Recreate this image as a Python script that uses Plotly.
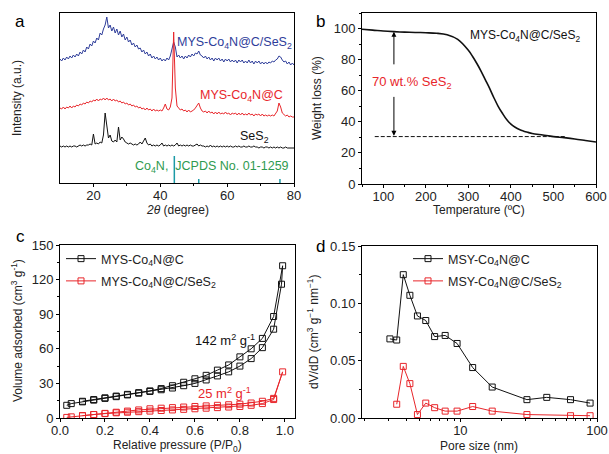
import numpy as np
import plotly.graph_objects as go

# ---------------- Panel a: XRD ----------------
xrd_two_theta = np.arange(10, 80.01, 0.5)
xrd_blue = [124,122,125,123,126,124,127,125,128,126,
            129,127,131,129,133,131,136,134,139,137,
            142,140,145,143,150,148,154,158,166,155,
            158,152,156,150,154,148,152,146,149,143,
            146,141,143,138,140,136,138,134,135,131,
            133,129,131,127,129,125,127,124,126,123,
            125,122,124,122,125,123,127,133,141,136,
            126,128,125,127,124,127,125,128,126,129,
            127,130,129,132,128,127,125,127,124,126,
            123,125,122,125,123,125,122,124,121,124,
            122,124,121,123,121,123,120,123,121,123,
            120,122,120,123,120,122,119,122,120,122,
            119,121,119,121,119,121,120,122,121,123,
            124,127,126,123,121,122,119,121,118,120,
            118]
xrd_red = [75,74,76,74,76,75,77,75,77,76,
           78,77,79,78,80,79,81,80,82,81,
           83,82,84,82,84,83,85,83,85,83,
           84,82,84,82,83,81,82,80,81,79,
           80,78,79,77,78,76,77,75,76,74,
           75,73,75,73,74,72,74,72,73,72,
           73,72,75,79,74,73,76,85,151,95,
           77,75,73,74,72,73,71,73,71,72,
           73,75,78,80,75,72,71,72,70,72,
           70,71,69,71,69,71,69,70,69,71,
           69,70,68,70,69,70,68,70,68,70,
           68,69,68,70,68,69,67,69,68,69,
           67,69,67,68,67,68,67,68,67,69,
           72,80,76,70,68,67,68,66,67,66,
           66]
xrd_black = [37,36,37,36,37,36,37,36,37,37,
             36,37,38,37,38,37,38,38,39,38,
             49,39,40,39,41,40,48,70,58,45,
             48,42,41,43,41,56,43,46,44,41,
             40,39,40,39,38,39,38,39,41,39,
             42,45,40,38,39,37,38,37,38,37,
             38,40,37,38,37,38,37,38,37,38,
             40,37,38,37,38,37,38,37,38,37,
             37,38,39,37,38,37,37,36,37,36,
             38,36,37,36,37,36,37,36,37,36,
             37,36,37,36,36,37,36,37,36,36,
             37,36,36,37,36,36,37,36,36,35,
             36,36,35,36,36,35,36,35,36,35,
             36,35,36,35,35,36,35,35,35,35,
             35]
co4n_pos = [44.2, 51.5, 75.8]
co4n_height = [27, 4, 4]

# ---------------- Panel b: TGA ----------------
tga_temp = [50,75,100,125,150,175,200,225,250,275,300,310,320,330,340,350,
            360,370,380,390,400,410,420,430,440,450,475,500,525,550,575,600]
tga_weight = [99.5,99.0,98.4,98.0,97.7,97.5,97.3,97.0,96.0,93.0,86.0,82.0,77.5,72.5,67.0,61.5,
              55.5,50.0,45.5,41.5,38.5,36.5,35.0,34.0,33.2,32.5,31.5,30.5,29.8,29.0,28.0,27.0]
tga_dash_x = [80, 530]
tga_dash_y = [30.5, 30.5]

# ---------------- Panel c: N2 isotherms ----------------
iso_p_black = [0.03,0.05,0.1,0.15,0.2,0.25,0.3,0.35,0.4,0.45,0.5,0.55,0.6,0.65,0.7,0.75,0.8,0.85,0.9,0.95,0.985,0.99,
               0.95,0.9,0.85,0.8,0.75,0.7,0.65,0.6,0.55,0.5,0.45,0.4,0.35,0.3,0.25,0.2,0.15,0.1]
iso_v_black = [11,12.5,14,15.5,17,18.5,20,21.5,23,24.5,26,28,30,33,36.5,40,45,51.5,61,77,116,132,
               88,69,60,53,46,41.5,37,34,31,28,25.5,23.5,22,20.5,19,17.5,16,14.5]
iso_p_red = [0.03,0.05,0.1,0.15,0.2,0.25,0.3,0.35,0.4,0.45,0.5,0.55,0.6,0.65,0.7,0.75,0.8,0.85,0.9,0.95,0.99,
             0.95,0.9,0.85,0.8,0.75,0.7,0.65,0.6,0.55,0.5,0.45,0.4,0.35,0.3,0.25,0.2,0.15,0.1]
iso_v_red = [0.5,1,2,3,3.8,4.5,5,5.5,6,6.5,7,7.5,8,8.5,9,9.5,10,11,12.5,16,40,
             17,14.5,13,12,11.5,11,10.5,10,9.5,9,8.5,8,7,6,5,4,3,2]

# ---------------- Panel d: pore size distribution ----------------
psd_d_black = [3.05,3.42,3.82,4.27,4.85,5.58,6.48,7.74,9.46,12.3,17.1,30.7,42.9,64,89]
psd_v_black = [0.069,0.068,0.125,0.107,0.089,0.085,0.071,0.072,0.065,0.044,0.027,0.016,0.018,0.016,0.013]
psd_d_red = [3.42,3.82,4.27,4.85,5.58,6.48,7.74,9.46,12.3,17.1,30.7,64,89]
psd_v_red = [0.012,0.045,0.030,0.003,0.013,0.009,0.006,0.006,0.010,0.006,0.003,0.002,0.002]

BLUE = "#2e3d9a"
RED = "#e8262b"
BLACK = "#111111"
GREEN = "#2f9a50"
TEAL = "#1b9aa6"
FONT = "Arial, Liberation Sans, sans-serif"

fig = go.Figure()

# panel a
fig.add_trace(go.Scatter(x=xrd_two_theta, y=xrd_blue, mode="lines", line=dict(color=BLUE, width=1),
                         xaxis="x", yaxis="y", showlegend=False))
fig.add_trace(go.Scatter(x=xrd_two_theta, y=xrd_red, mode="lines", line=dict(color=RED, width=1),
                         xaxis="x", yaxis="y", showlegend=False))
fig.add_trace(go.Scatter(x=xrd_two_theta, y=xrd_black, mode="lines", line=dict(color=BLACK, width=1),
                         xaxis="x", yaxis="y", showlegend=False))
for p, h in zip(co4n_pos, co4n_height):
    fig.add_trace(go.Scatter(x=[p, p], y=[0, h], mode="lines", line=dict(color=TEAL, width=1.5),
                             xaxis="x", yaxis="y", showlegend=False))

# panel b
fig.add_trace(go.Scatter(x=tga_temp, y=tga_weight, mode="lines", line=dict(color=BLACK, width=1.6, shape="spline"),
                         xaxis="x2", yaxis="y2", showlegend=False))
fig.add_trace(go.Scatter(x=tga_dash_x, y=tga_dash_y, mode="lines", line=dict(color=BLACK, width=1, dash="4px,2px"),
                         xaxis="x2", yaxis="y2", showlegend=False))

# panel c
fig.add_trace(go.Scatter(x=iso_p_black, y=iso_v_black, mode="lines+markers", name="MYS-Co<sub>4</sub>N@C",
                         line=dict(color=BLACK, width=1), legendgroup="c1",
                         marker=dict(symbol="square-open", size=6, color=BLACK, line=dict(width=1)),
                         xaxis="x3", yaxis="y3", legend="legend"))
fig.add_trace(go.Scatter(x=iso_p_red, y=iso_v_red, mode="lines+markers", name="MYS-Co<sub>4</sub>N@C/SeS<sub>2</sub>",
                         line=dict(color=RED, width=1), legendgroup="c2",
                         marker=dict(symbol="square-open", size=6, color=RED, line=dict(width=1)),
                         xaxis="x3", yaxis="y3", legend="legend"))

# panel d
fig.add_trace(go.Scatter(x=psd_d_black, y=psd_v_black, mode="lines+markers", name="MSY-Co<sub>4</sub>N@C",
                         line=dict(color=BLACK, width=1), legendgroup="d1",
                         marker=dict(symbol="square-open", size=6, color=BLACK, line=dict(width=1)),
                         xaxis="x4", yaxis="y4", legend="legend2"))
fig.add_trace(go.Scatter(x=psd_d_red, y=psd_v_red, mode="lines+markers", name="MSY-Co<sub>4</sub>N@C/SeS<sub>2</sub>",
                         line=dict(color=RED, width=1), legendgroup="d2",
                         marker=dict(symbol="square-open", size=6, color=RED, line=dict(width=1)),
                         xaxis="x4", yaxis="y4", legend="legend2"))

W, H = 609, 454
def px_x(p):
    return p / W
def px_y(p):
    return 1 - p / H

axis_common = dict(showline=True, linecolor="black", linewidth=1, mirror=True, ticks="outside",
                   ticklen=3, tickwidth=1, tickcolor="black", showgrid=False, zeroline=False,
                   automargin=False, tickfont=dict(size=13, color="#222"))
xaxis_common = dict(axis_common, ticklabelstandoff=-3)

fig.update_layout(
    width=W, height=H, margin=dict(l=0, r=0, t=0, b=0, autoexpand=False),
    paper_bgcolor="white", plot_bgcolor="white",
    font=dict(family=FONT, color="#222"),
    xaxis=dict(xaxis_common, domain=[px_x(60), px_x(294)], range=[10, 80], anchor="y",
               tickvals=[20, 40, 60, 80], minor=dict(ticks="outside", ticklen=2, tickvals=[30, 50, 70])),
    yaxis=dict(axis_common, domain=[px_y(183), px_y(13)], range=[0, 170], anchor="x",
               ticks="", showticklabels=False),
    xaxis2=dict(xaxis_common, domain=[px_x(362), px_x(596)], range=[50, 600], anchor="y2",
                dtick=100, tick0=0, minor=dict(ticks="outside", ticklen=2, dtick=50, tick0=50)),
    yaxis2=dict(axis_common, domain=[px_y(184), px_y(13)], range=[0, 110], anchor="x2",
                dtick=20, minor=dict(ticks="outside", ticklen=2, dtick=10)),
    xaxis3=dict(xaxis_common, domain=[px_x(60), px_x(295)], range=[0, 1.045], anchor="y3",
                dtick=0.2, tickformat=".1f", minor=dict(ticks="outside", ticklen=2, dtick=0.1)),
    yaxis3=dict(axis_common, domain=[px_y(418), px_y(245)], range=[0, 150], anchor="x3",
                dtick=30, minor=dict(ticks="outside", ticklen=2, dtick=15)),
    xaxis4=dict(xaxis_common, type="log", domain=[px_x(362), px_x(597)], range=[0.28, 2.0], anchor="y4",
                tickvals=[10, 100], minor=dict(ticks="outside", ticklen=2, dtick="D1")),
    yaxis4=dict(axis_common, domain=[px_y(418), px_y(246)], range=[0, 0.15], anchor="x4",
                dtick=0.05, tickformat=".2f", minor=dict(ticks="outside", ticklen=2, dtick=0.025)),
    legend=dict(x=px_x(61), y=px_y(244), xanchor="left", yanchor="top", bgcolor="rgba(0,0,0,0)",
                font=dict(size=12.5, color="#222"), tracegroupgap=3, itemwidth=30, traceorder="grouped"),
    legend2=dict(x=px_x(408), y=px_y(244), xanchor="left", yanchor="top", bgcolor="rgba(0,0,0,0)",
                 font=dict(size=12.5, color="#222"), tracegroupgap=3, itemwidth=30, traceorder="grouped"),
)

ann = []
# panel letters
for txt, x, y in [("a", 20, 21), ("b", 320, 21), ("c", 20, 237), ("d", 320, 246)]:
    ann.append(dict(text=txt, x=px_x(x), y=px_y(y), xref="paper", yref="paper", showarrow=False,
                    xanchor="center", yanchor="middle", font=dict(size=17, color="black")))
# axis titles
axis_titles = [
    ("<i>2θ</i> (degree)", 177, 210, 0),
    ("Temperature (ºC)", 479, 210, 0),
    ("Relative pressure (P/P<sub>0</sub>)", 177, 446, 0),
    ("Pore size (nm)", 479, 446, 0),
    ("Intensity (a.u.)", 17, 98, -90),
    ("Weight loss (%)", 317, 98, -90),
    ("Volume adsorbed (cm<sup>3</sup> g<sup>-1</sup>)", 17, 331, -90),
    ("dV/dD (cm<sup>3</sup> g<sup>−1</sup> nm<sup>−1</sup>)", 313, 332, -90),
]
for txt, x, y, ang in axis_titles:
    ann.append(dict(text=txt, x=px_x(x), y=px_y(y), xref="paper", yref="paper", showarrow=False,
                    xanchor="center", yanchor="middle", textangle=ang, font=dict(size=12, color="#222")))
# panel a labels
ann.append(dict(text="MYS-Co<sub>4</sub>N@C/SeS<sub>2</sub>", x=80, y=140, xref="x", yref="y",
                xanchor="right", showarrow=False, font=dict(size=12.5, color=BLUE)))
ann.append(dict(text="MYS-Co<sub>4</sub>N@C", x=77.3, y=87, xref="x", yref="y",
                xanchor="right", showarrow=False, font=dict(size=12.5, color=RED)))
ann.append(dict(text="SeS<sub>2</sub>", x=73.2, y=46, xref="x", yref="y",
                xanchor="right", showarrow=False, font=dict(size=12.5, color=BLACK)))
ann.append(dict(text="Co<sub>4</sub>N,  JCPDS No. 01-1259", x=79, y=16, xref="x", yref="y",
                xanchor="right", showarrow=False, font=dict(size=12.5, color=GREEN)))
# panel b labels
ann.append(dict(text="MYS-Co<sub>4</sub>N@C/SeS<sub>2</sub>", x=434, y=95, xref="x2", yref="y2",
                showarrow=False, font=dict(size=12, color=BLACK)))
ann.append(dict(text="70 wt.% SeS<sub>2</sub>", x=168, y=65.5, xref="x2", yref="y2",
                showarrow=False, font=dict(size=13, color=RED)))
ann.append(dict(text="", x=125, y=98, ax=125, ay=76, xref="x2", yref="y2", axref="x2", ayref="y2",
                showarrow=True, arrowhead=2, arrowsize=1, arrowwidth=1, arrowcolor="black"))
ann.append(dict(text="", x=125, y=31, ax=125, ay=57, xref="x2", yref="y2", axref="x2", ayref="y2",
                showarrow=True, arrowhead=2, arrowsize=1, arrowwidth=1, arrowcolor="black"))
# panel c labels
ann.append(dict(text="142 m<sup>2</sup> g<sup>-1</sup>", x=0.735, y=68, xref="x3", yref="y3",
                showarrow=False, font=dict(size=13, color=BLACK)))
ann.append(dict(text="25 m<sup>2</sup> g<sup>-1</sup>", x=0.73, y=22, xref="x3", yref="y3",
                showarrow=False, font=dict(size=13, color=RED)))
fig.update_layout(annotations=ann)

fig.write_html("out.html", config={"displayModeBar": False},
               post_script="document.body.style.margin='0';document.body.style.padding='0';document.body.style.overflow='hidden';")
